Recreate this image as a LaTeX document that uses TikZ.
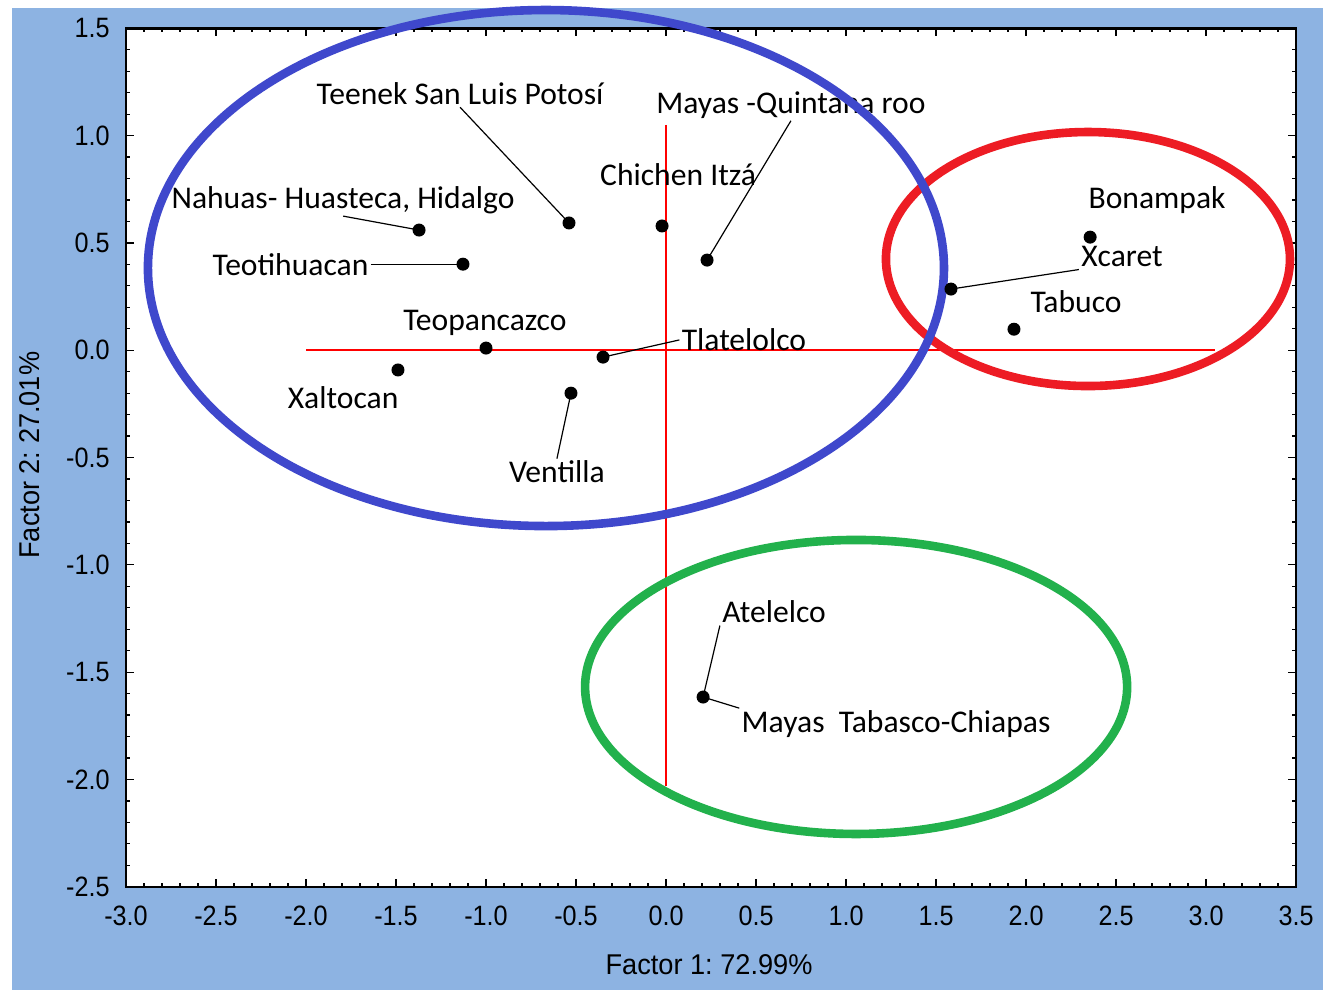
\documentclass[tikz,border=0pt]{standalone}
\usepackage{fontspec}
\setmainfont{Carlito}
\newfontfamily\axisfont[FakeStretch=0.9]{Liberation Sans}
\newfontfamily\titlefont[FakeStretch=0.95]{Liberation Sans}
\usetikzlibrary{positioning}
\frenchspacing

\definecolor{panelblue}{RGB}{141,179,226}
\definecolor{ringblue}{RGB}{63,72,204}
\definecolor{ringred}{RGB}{237,28,36}
\definecolor{ringgreen}{RGB}{34,177,76}

\tikzset{
  site/.style={circle, fill=black, inner sep=0pt, minimum size=6.5pt},
  sitelabel/.style={inner sep=1pt, font=\fontsize{15.8}{18}\selectfont},
  leader/.style={line width=0.6pt},
  ticklabel/.style={font=\axisfont\fontsize{14}{16}\selectfont},
  axistitle/.style={font=\titlefont\fontsize{14.3}{16}\selectfont},
  ring/.style={line width=4.3pt},
}

\begin{document}
\begin{tikzpicture}[x=90pt, y=107.3pt]
  \useasboundingbox (-3.7,1.632) rectangle (3.683,-2.982);
  \fill[panelblue] (-3.633,1.594) rectangle (3.65,-2.982);
  \fill[white] (-3,-2.5) rectangle (3.5,1.5);

  % red axes through the origin
  \draw[red, line width=0.8pt] (-2.0,0) -- (3.05,0);
  \draw[red, line width=0.8pt] (0,1.05) -- (0,-2.03);

  % frame and ticks
  \foreach \i in {-30,...,35}
    \draw[line width=0.6pt] (\i/10,-2.5) -- ++(0,2pt) (\i/10,1.5) -- ++(0,-2pt);
  \foreach \i in {-25,...,15}
    \draw[line width=0.6pt] (-3,\i/10) -- ++(2pt,0) (3.5,\i/10) -- ++(-2pt,0);
  \foreach \v in {-3.0,-2.5,-2.0,-1.5,-1.0,-0.5,0.0,0.5,1.0,1.5,2.0,2.5,3.0,3.5}{
    \draw[line width=0.6pt] (\v,-2.5) -- ++(0,4pt) (\v,1.5) -- ++(0,-4pt);
    \node[ticklabel] at (\v,-2.637) {\v};
  }
  \foreach \v in {-2.5,-2.0,-1.5,-1.0,-0.5,0.0,0.5,1.0,1.5}{
    \draw[line width=0.6pt] (-3,\v) -- ++(4pt,0) (3.5,\v) -- ++(-4pt,0);
    \node[ticklabel, anchor=east, inner sep=0pt] at (-3.089,\v) {\v};
  }
  \draw[line width=1.2pt] (-3,-2.5) rectangle (3.5,1.5);

  \node[axistitle] (xtitle) at (0.239,-2.865) {Factor 1: 72.99\%};
  \node[axistitle, rotate=90] (ytitle) at (-3.533,-0.489) {Factor 2: 27.01\%};

  % site labels
  \node[sitelabel] (teenekTxt) at (-1.144,1.195) {Teenek San Luis Potosí};
  \node[sitelabel] (nahuasTxt) at (-1.794,0.700) {Nahuas- Huasteca, Hidalgo};
  \node[sitelabel, anchor=east] (teotiTxt) at (-1.64,0.401) {Teotihuacan};
  \node[sitelabel] (chichenTxt) at (0.067,0.816) {Chichen Itzá};
  \node[sitelabel] (quintanaTxt) at (0.694,1.143) {Mayas -Quintana roo};
  \node[sitelabel] (tlatelTxt) at (0.433,0.048) {Tlatelolco};
  \node[sitelabel] (teopanTxt) at (-1.006,0.127) {Teopancazco};
  \node[sitelabel] (xaltoTxt) at (-1.794,-0.219) {Xaltocan};
  \node[sitelabel] (ventillaTxt) at (-0.606,-0.568) {Ventilla};
  \node[sitelabel] (bonamTxt) at (2.728,0.700) {Bonampak};
  \node[sitelabel] (xcaretTxt) at (2.533,0.435) {Xcaret};
  \node[sitelabel] (tabucoTxt) at (2.278,0.225) {Tabuco};
  \node[sitelabel] (atelelcoTxt) at (0.600,-1.220) {Atelelco};
  \node[sitelabel] (tabchisTxt) at (1.278,-1.742) {Mayas\ \ Tabasco-Chiapas};

  % groups
  \draw[ring, ringred] (2.344,0.425) ellipse [x radius=101pt, y radius=63.5pt];
  \draw[ring, ringblue] (-0.667,0.383) ellipse [x radius=199pt, y radius=129pt];
  \draw[ring, ringgreen] (1.056,-1.569) ellipse [x radius=135.5pt, y radius=73.5pt];

  % sites
  \node[site] (teenek) at (-0.539,0.593) {};
  \node[site] (chichen) at (-0.022,0.579) {};
  \node[site] (quintana) at (0.228,0.420) {};
  \node[site] (nahuas) at (-1.372,0.560) {};
  \node[site] (teoti) at (-1.128,0.401) {};
  \node[site] (teopan) at (-1.0,0.01) {};
  \node[site] (xalto) at (-1.489,-0.092) {};
  \node[site] (tlatel) at (-0.35,-0.032) {};
  \node[site] (ventilla) at (-0.528,-0.200) {};
  \node[site] (bonam) at (2.356,0.527) {};
  \node[site] (xcaret) at (1.583,0.285) {};
  \node[site] (tabuco) at (1.933,0.098) {};
  \node[site] (tabchis) at (0.206,-1.616) {};

  \draw[leader] (teenekTxt.south) -- (teenek.center);
  \draw[leader] (nahuasTxt.south) -- (nahuas.center);
  \draw[leader] (teotiTxt.east) -- (teoti.center);
  \draw[leader] (quintanaTxt.south) -- (quintana.center);
  \draw[leader] (tlatelTxt.west) -- (tlatel.center);
  \draw[leader] (ventillaTxt.north) -- (ventilla.center);
  \draw[leader] (xcaretTxt.south west) -- (xcaret.center);
  \draw[leader] (atelelcoTxt.south west) -- (tabchis.center);
  \draw[leader] (tabchisTxt.north west) -- (tabchis.center);
\end{tikzpicture}
\end{document}
